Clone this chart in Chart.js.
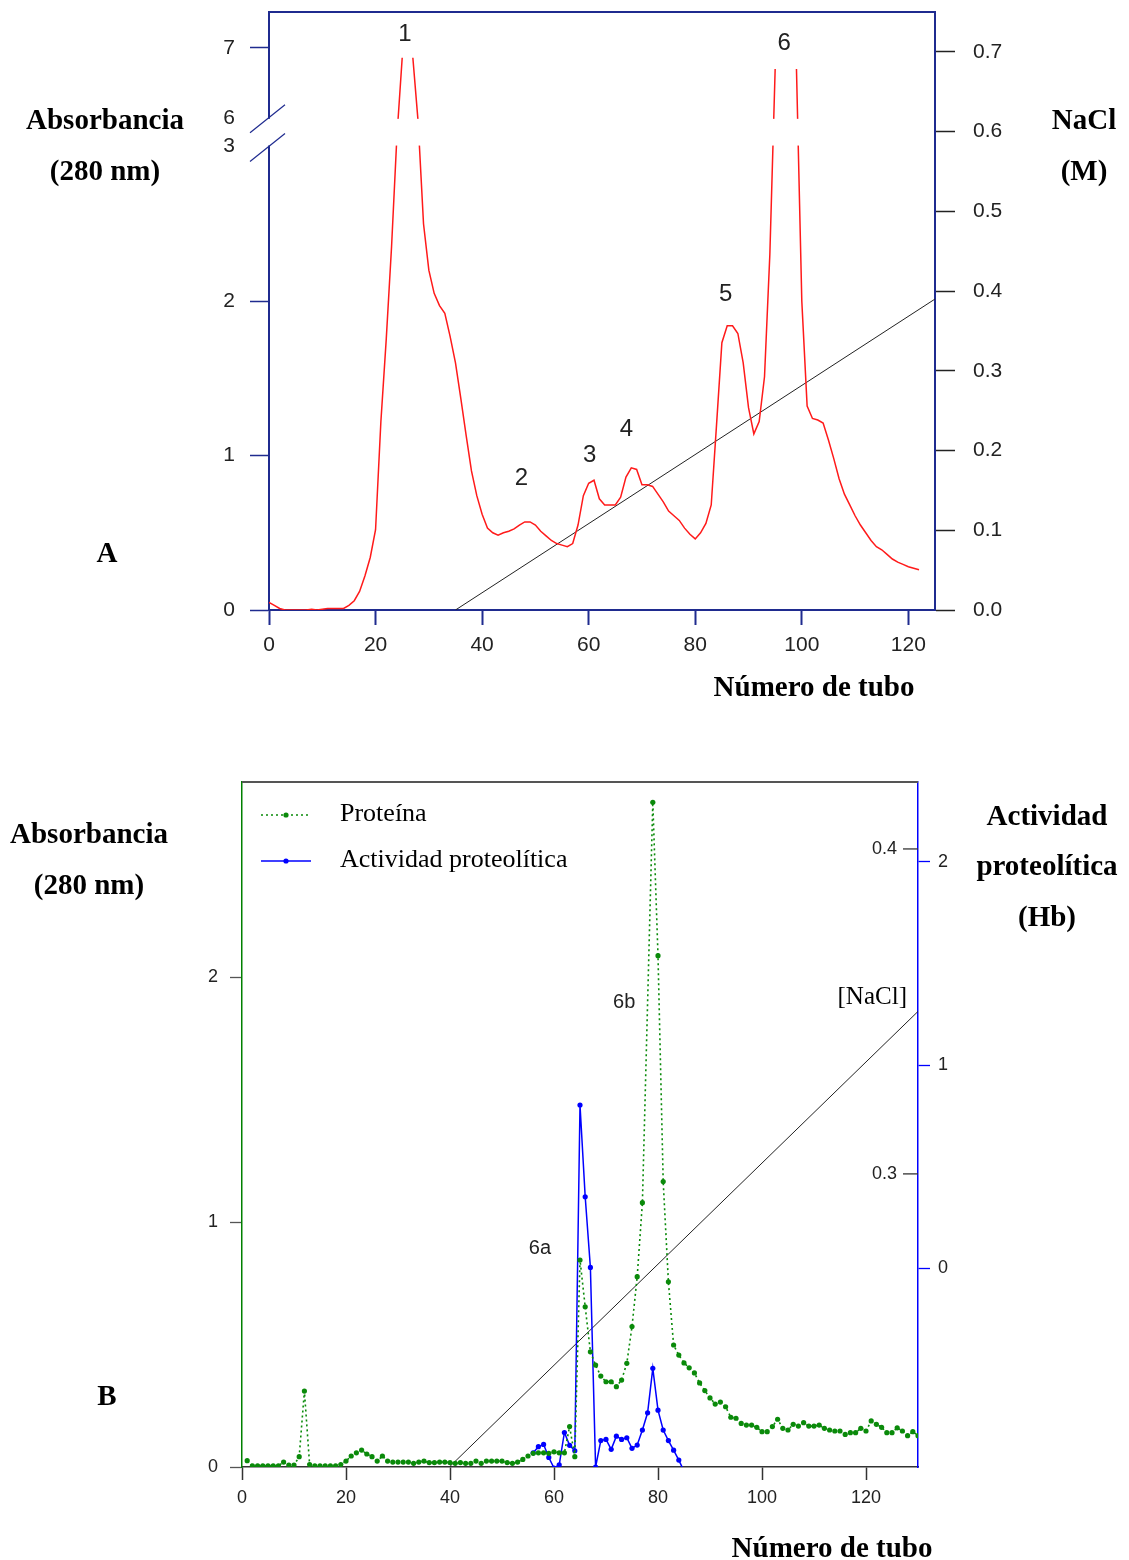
<!DOCTYPE html>
<html>
<head>
<meta charset="utf-8">
<script src="https://cdn.jsdelivr.net/npm/chart.js@4.4.1/dist/chart.umd.min.js"></script>
<style>
  body { margin: 0; background: #fff; width: 1129px; height: 1560px; position: relative; overflow: hidden; }
  canvas { position: absolute; left: 0; }
  #chartA { top: 0; }
  #chartB { top: 700px; }
  .ttl { position: absolute; width: 300px; text-align: center; font: bold 29px "Liberation Serif", "Times New Roman", serif; line-height: 30px; color: #000; white-space: nowrap; }
  .leg { position: absolute; font: 26px "Liberation Serif", "Times New Roman", serif; line-height: 30px; color: #000; white-space: nowrap; }
</style>
</head>
<body>
<canvas id="chartA" width="1129" height="700"></canvas>
<canvas id="chartB" width="1129" height="860"></canvas>

<div class="ttl" style="left:-45px;top:104px">Absorbancia</div>
<div class="ttl" style="left:-45px;top:155px">(280 nm)</div>
<div class="ttl" style="left:934px;top:104px">NaCl</div>
<div class="ttl" style="left:934px;top:155px">(M)</div>
<div class="ttl" style="left:664px;top:671px">Número de tubo</div>
<div class="ttl" style="left:-43px;top:537px">A</div>

<div class="ttl" style="left:-61px;top:818px">Absorbancia</div>
<div class="ttl" style="left:-61px;top:869px">(280 nm)</div>
<div class="ttl" style="left:897px;top:800px">Actividad</div>
<div class="ttl" style="left:897px;top:850px">proteolítica</div>
<div class="ttl" style="left:897px;top:901px">(Hb)</div>
<div class="ttl" style="left:-43px;top:1380px">B</div>
<div class="ttl" style="left:682px;top:1532px">Número de tubo</div>

<div class="leg" style="left:340px;top:798px">Proteína</div>
<div class="leg" style="left:340px;top:844px">Actividad proteolítica</div>

<script>
// ---------------------------------------------------------------------------
// Panel A: absorbance (280 nm) per tube, one value per tube starting at 0
// ---------------------------------------------------------------------------
const absA = [
  0.05, 0.03, 0.01, 0, 0, 0, 0, 0, 0.005, 0,
  0.005, 0.01, 0.01, 0.01, 0.01, 0.03, 0.06, 0.12, 0.22, 0.34,
  0.52, 1.22, 1.75, 2.35, 4.0, 6.86, 6.86, 6.86, 5.5, 2.5,
  2.2, 2.05, 1.97, 1.92, 1.77, 1.6, 1.37, 1.13, 0.9, 0.74,
  0.62, 0.53, 0.5, 0.485, 0.5, 0.51, 0.525, 0.55, 0.57, 0.57,
  0.55, 0.51, 0.48, 0.45, 0.43, 0.42, 0.41, 0.43, 0.55, 0.74,
  0.82, 0.84, 0.72, 0.68, 0.68, 0.68, 0.73, 0.86, 0.92, 0.91,
  0.81, 0.81, 0.8, 0.75, 0.7, 0.64, 0.61, 0.58, 0.53, 0.49,
  0.46, 0.5, 0.56, 0.68, 1.2, 1.73, 1.84, 1.84, 1.79, 1.6,
  1.31, 1.14, 1.22, 1.51, 2.3, 6.7, 6.7, 6.7, 6.7, 6.7,
  2.0, 1.32, 1.24, 1.23, 1.21, 1.1, 0.98, 0.85, 0.75, 0.68,
  0.61, 0.55, 0.5, 0.45, 0.41, 0.39, 0.36, 0.33, 0.31, 0.295,
  0.28, 0.27, 0.26
];
const naclTubesA = [35, 125];
const naclA = [0, 0.39];

const xTicksA = [0, 20, 40, 60, 80, 100, 120];
const yTicksA = [0, 1, 2, 3, 6, 7];
const naclTicksA = [0, 0.1, 0.2, 0.3, 0.4, 0.5, 0.6, 0.7];

// ---------------------------------------------------------------------------
// Panel B: protein (tubes 1..130) and proteolytic activity (tubes 56..85)
// ---------------------------------------------------------------------------
const protStart = 1;
const protB = [
  0.026, 0.005, 0.005, 0.005, 0.005, 0.005, 0.005, 0.02, 0.008, 0.008,
  0.042, 0.31, 0.01, 0.005, 0.005, 0.005, 0.005, 0.005, 0.01, 0.024,
  0.045, 0.058, 0.069, 0.053, 0.042, 0.024, 0.045, 0.024, 0.02, 0.02,
  0.02, 0.02, 0.015, 0.02, 0.024, 0.018, 0.018, 0.02, 0.02, 0.018,
  0.015, 0.018, 0.015, 0.015, 0.024, 0.015, 0.024, 0.024, 0.024, 0.024,
  0.018, 0.015, 0.02, 0.031, 0.045, 0.056, 0.058, 0.058, 0.056, 0.062,
  0.058, 0.058, 0.165, 0.042, 0.845, 0.654, 0.47, 0.416, 0.371, 0.348,
  0.348, 0.328, 0.355, 0.423, 0.573, 0.777, 1.079, null, 2.713, 2.087,
  1.165, 0.756, 0.498, 0.457, 0.425, 0.405, 0.384, 0.343, 0.312, 0.282,
  0.257, 0.265, 0.246, 0.203, 0.199, 0.178, 0.171, 0.171, 0.162, 0.144,
  0.144, 0.165, 0.195, 0.158, 0.151, 0.174, 0.167, 0.181, 0.167, 0.167,
  0.171, 0.158, 0.151, 0.147, 0.147, 0.133, 0.14, 0.14, 0.158, 0.147,
  0.188, 0.174, 0.162, 0.14, 0.14, 0.16, 0.147, 0.128, 0.144, 0.128
];
const actStart = 56;
const actB = [
  -0.91, -0.88, -0.869, -0.933, -0.985, -0.97, -0.81, -0.873, -0.9, 0.803,
  0.351, 0.003, -0.98, -0.85, -0.844, -0.893, -0.828, -0.844, -0.836, -0.888,
  -0.872, -0.798, -0.713, -0.494, -0.7, -0.798, -0.85, -0.897, -0.946, -1.0
];
const naclTubesB = [40, 130];
const naclB = [0.21, 0.35];

const xTicksB = [0, 20, 40, 60, 80, 100, 120];
const yTicksB = [0, 1, 2];
const actTicksB = [0, 1, 2];
const naclTicksB = [0.3, 0.4];

// Broken absorbance axis: value -> fraction of the plot height
const axisBreakA = [[0, 0], [3, 0.775], [6, 0.823], [7.514, 1]];

const SANS = "'Liberation Sans', Arial, sans-serif";
const SERIF = "'Liberation Serif', 'Times New Roman', serif";
const NAVY = '#1f2b8f';
Chart.defaults.font.family = SANS;
Chart.defaults.color = '#222';

// ---------------------------------------------------------------------------
// Scale with a gap between 3 and 6
// ---------------------------------------------------------------------------
class BrokenScale extends Chart.LinearScale {
  getPixelForValue(value) {
    if (value === null || isNaN(value)) return NaN;
    const b = axisBreakA;
    let i = 1;
    while (i < b.length - 1 && value > b[i][0]) i++;
    const [v0, d0] = b[i - 1];
    const [v1, d1] = b[i];
    return this.getPixelForDecimal(d0 + (value - v0) / (v1 - v0) * (d1 - d0));
  }
  getValueForPixel(pixel) {
    const d = this.getDecimalForPixel(pixel);
    const b = axisBreakA;
    let i = 1;
    while (i < b.length - 1 && d > b[i][1]) i++;
    const [v0, d0] = b[i - 1];
    const [v1, d1] = b[i];
    return v0 + (d - d0) / (d1 - d0) * (v1 - v0);
  }
}
BrokenScale.id = 'broken';
BrokenScale.defaults = Chart.LinearScale.defaults;
Chart.register(BrokenScale);

const setTicks = list => scale => { scale.ticks = list.map(v => ({ value: v })); };

// fixed box size, and no extra room for labels spilling past the plot edges
const fixWidth = w => s => { s.width = w; s.paddingTop = 0; s.paddingBottom = 0; };
const fixHeight = h => s => { s.height = h; s.paddingLeft = 0; s.paddingRight = 0; };

// ---------------------------------------------------------------------------
// Plugins
// ---------------------------------------------------------------------------
const axisBreakPlugin = {
  id: 'axisBreak',
  afterDatasetsDraw(chart) {
    const { ctx, chartArea } = chart;
    const y = chart.scales.y;
    const hi = y.getPixelForValue(axisBreakA[2][0]);
    const lo = y.getPixelForValue(axisBreakA[1][0]);
    ctx.save();
    ctx.fillStyle = '#fff';
    ctx.fillRect(chartArea.left - 3, hi + 1, chartArea.right - chartArea.left + 1, lo - hi - 2);
    ctx.strokeStyle = NAVY;
    ctx.lineWidth = 1.3;
    [hi, lo].forEach(p => {
      ctx.beginPath();
      ctx.moveTo(chartArea.left - 19, p + 15);
      ctx.lineTo(chartArea.left + 16, p - 13);
      ctx.stroke();
    });
    ctx.restore();
  }
};

const topBorderPlugin = {
  id: 'topBorder',
  afterDraw(chart, args, opts) {
    const { ctx, chartArea } = chart;
    ctx.save();
    ctx.strokeStyle = opts.color;
    ctx.lineWidth = opts.width;
    ctx.beginPath();
    ctx.moveTo(chartArea.left, chartArea.top);
    ctx.lineTo(chartArea.right, chartArea.top);
    ctx.stroke();
    ctx.restore();
  }
};

const peakLabelPlugin = {
  id: 'peakLabels',
  afterDraw(chart, args, opts) {
    const { ctx } = chart;
    const xs = chart.scales.x;
    ctx.save();
    ctx.textAlign = 'center';
    ctx.textBaseline = 'middle';
    opts.items.forEach(it => {
      ctx.font = it.font || opts.font;
      ctx.fillStyle = it.color || opts.color;
      ctx.fillText(it.text, xs.getPixelForValue(it.x), chart.scales[opts.axis].getPixelForValue(it.y));
    });
    ctx.restore();
  }
};

// NaCl ticks sit on the inner side of the right axis in panel B
const naclTickPlugin = {
  id: 'naclTicks',
  afterDraw(chart) {
    const { ctx, chartArea } = chart;
    const s = chart.scales.yN;
    ctx.save();
    ctx.strokeStyle = '#333';
    ctx.lineWidth = 1.3;
    ctx.fillStyle = '#222';
    ctx.font = '18px ' + SANS;
    ctx.textAlign = 'right';
    ctx.textBaseline = 'middle';
    naclTicksB.forEach(v => {
      const p = s.getPixelForValue(v);
      ctx.beginPath();
      ctx.moveTo(chartArea.right - 15, p);
      ctx.lineTo(chartArea.right, p);
      ctx.stroke();
      ctx.fillText(v.toFixed(1), chartArea.right - 21, p);
    });
    ctx.restore();
  }
};

const legendSamplePlugin = {
  id: 'legendSamples',
  afterDraw(chart) {
    const { ctx, chartArea } = chart;
    const x0 = chartArea.left + 19, x1 = chartArea.left + 69, xm = chartArea.left + 44;
    const rows = [
      { y: chartArea.top + 33, color: '#0a8a0a', dash: [2, 3] },
      { y: chartArea.top + 79, color: '#0000ff', dash: [] }
    ];
    ctx.save();
    rows.forEach(r => {
      ctx.strokeStyle = r.color;
      ctx.lineWidth = 1.5;
      ctx.setLineDash(r.dash);
      ctx.beginPath();
      ctx.moveTo(x0, r.y);
      ctx.lineTo(x1, r.y);
      ctx.stroke();
      ctx.setLineDash([]);
      ctx.fillStyle = r.color;
      ctx.beginPath();
      ctx.arc(xm, r.y, 2.6, 0, Math.PI * 2);
      ctx.fill();
    });
    ctx.restore();
  }
};

// ---------------------------------------------------------------------------
// Chart A
// ---------------------------------------------------------------------------
const RED = '#ff1a1a';
new Chart(document.getElementById('chartA'), {
  type: 'line',
  data: {
    datasets: [
      {
        data: absA.map((v, i) => ({ x: i, y: v })),
        yAxisID: 'y',
        borderColor: RED,
        borderWidth: 1.5,
        pointRadius: 0,
        tension: 0,
        segment: {
          borderColor: ctx => (ctx.p0.parsed.y > 6.5 && ctx.p1.parsed.y > 6.5) ? 'rgba(0,0,0,0)' : RED
        }
      },
      {
        data: naclTubesA.map((t, i) => ({ x: t, y: naclA[i] })),
        yAxisID: 'y2',
        borderColor: '#222',
        borderWidth: 1,
        pointRadius: 0
      }
    ]
  },
  options: {
    responsive: false,
    animation: false,
    events: [],
    layout: { padding: { top: 12, left: 0, right: 0, bottom: 0 } },
    plugins: {
      legend: { display: false },
      tooltip: { enabled: false },
      topBorder: { color: NAVY, width: 2 },
      peakLabels: {
        axis: 'y',
        font: '24px ' + SANS,
        color: '#222',
        items: [
          { text: '1', x: 25.5, y: 7.2 },
          { text: '2', x: 47.4, y: 0.85 },
          { text: '3', x: 60.2, y: 1.0 },
          { text: '4', x: 67.1, y: 1.17 },
          { text: '5', x: 85.7, y: 2.04 },
          { text: '6', x: 96.7, y: 7.07 }
        ]
      }
    },
    scales: {
      x: {
        type: 'linear', min: 0, max: 125,
        afterBuildTicks: setTicks(xTicksA),
        afterFit: fixHeight(90),
        border: { color: NAVY, width: 2 },
        grid: { drawOnChartArea: false, tickLength: 15, tickColor: NAVY, tickWidth: 2 },
        ticks: { font: { size: 21 }, padding: 8, autoSkip: false, maxRotation: 0 }
      },
      y: {
        type: 'broken', position: 'left', min: 0, max: 7.514,
        afterBuildTicks: setTicks(yTicksA),
        afterFit: fixWidth(269),
        border: { color: NAVY, width: 2 },
        grid: {
          drawOnChartArea: false, tickLength: 19, tickWidth: 1.5,
          tickColor: c => (c.tick && (c.tick.value === 3 || c.tick.value === 6)) ? 'rgba(0,0,0,0)' : NAVY
        },
        ticks: { font: { size: 21 }, padding: 15, autoSkip: false }
      },
      y2: {
        type: 'linear', position: 'right', min: 0, max: 0.75,
        afterBuildTicks: setTicks(naclTicksA),
        afterFit: fixWidth(1129 - 935),
        border: { color: NAVY, width: 2 },
        grid: { drawOnChartArea: false, tickLength: 20, tickColor: '#222', tickWidth: 1.5 },
        ticks: { font: { size: 21 }, padding: 18, autoSkip: false, callback: v => v.toFixed(1) }
      }
    }
  },
  plugins: [axisBreakPlugin, topBorderPlugin, peakLabelPlugin]
});

// ---------------------------------------------------------------------------
// Chart B
// ---------------------------------------------------------------------------
const GREEN = '#0a8a0a';
const BLUE = '#0000ff';
new Chart(document.getElementById('chartB'), {
  type: 'line',
  data: {
    datasets: [
      {
        data: protB.map((v, i) => ({ x: protStart + i, y: v })),
        yAxisID: 'y',
        borderColor: GREEN,
        borderWidth: 1.6,
        borderDash: [2, 3],
        pointRadius: 2.6,
        pointBorderWidth: 0,
        pointBackgroundColor: GREEN,
        spanGaps: true
      },
      {
        data: actB.map((v, i) => ({ x: actStart + i, y: v })),
        yAxisID: 'y2',
        borderColor: BLUE,
        borderWidth: 1.5,
        pointRadius: 2.6,
        pointBorderWidth: 0,
        pointBackgroundColor: BLUE
      },
      {
        data: naclTubesB.map((t, i) => ({ x: t, y: naclB[i] })),
        yAxisID: 'yN',
        borderColor: '#222',
        borderWidth: 1,
        pointRadius: 0
      }
    ]
  },
  options: {
    responsive: false,
    animation: false,
    events: [],
    layout: { padding: { top: 82, left: 0, right: 0, bottom: 0 } },
    plugins: {
      legend: { display: false },
      tooltip: { enabled: false },
      topBorder: { color: '#555', width: 2 },
      peakLabels: {
        axis: 'y',
        font: '20px ' + SANS,
        color: '#222',
        items: [
          { text: '6a', x: 57.3, y: 0.89 },
          { text: '6b', x: 73.5, y: 1.894 },
          { text: '[NaCl]', x: 121.2, y: 1.918, font: '25px ' + SERIF, color: '#000' }
        ]
      }
    },
    scales: {
      x: {
        type: 'linear', min: 0, max: 130,
        afterBuildTicks: setTicks(xTicksB),
        afterFit: fixHeight(93),
        border: { color: '#333', width: 1.5 },
        grid: { drawOnChartArea: false, tickLength: 13, tickColor: '#333', tickWidth: 1.5 },
        ticks: { font: { size: 18 }, padding: 7, autoSkip: false, maxRotation: 0 }
      },
      y: {
        type: 'linear', position: 'left', min: 0, max: 2.796,
        afterBuildTicks: setTicks(yTicksB),
        afterFit: fixWidth(242),
        border: { color: '#008000', width: 1.5 },
        grid: { drawOnChartArea: false, tickLength: 12, tickColor: '#555', tickWidth: 1.3 },
        ticks: { font: { size: 18 }, padding: 12, autoSkip: false }
      },
      y2: {
        type: 'linear', position: 'right', min: -0.98, max: 2.394,
        afterBuildTicks: setTicks(actTicksB),
        afterFit: fixWidth(1129 - 918),
        border: { color: BLUE, width: 1.5 },
        grid: { drawOnChartArea: false, tickLength: 12, tickColor: BLUE, tickWidth: 1.3 },
        ticks: { font: { size: 18 }, padding: 8, autoSkip: false }
      },
      yN: {
        type: 'linear', position: 'right', min: 0.2098, max: 0.4206,
        display: false
      }
    }
  },
  plugins: [topBorderPlugin, peakLabelPlugin, naclTickPlugin, legendSamplePlugin]
});
</script>
</body>
</html>
